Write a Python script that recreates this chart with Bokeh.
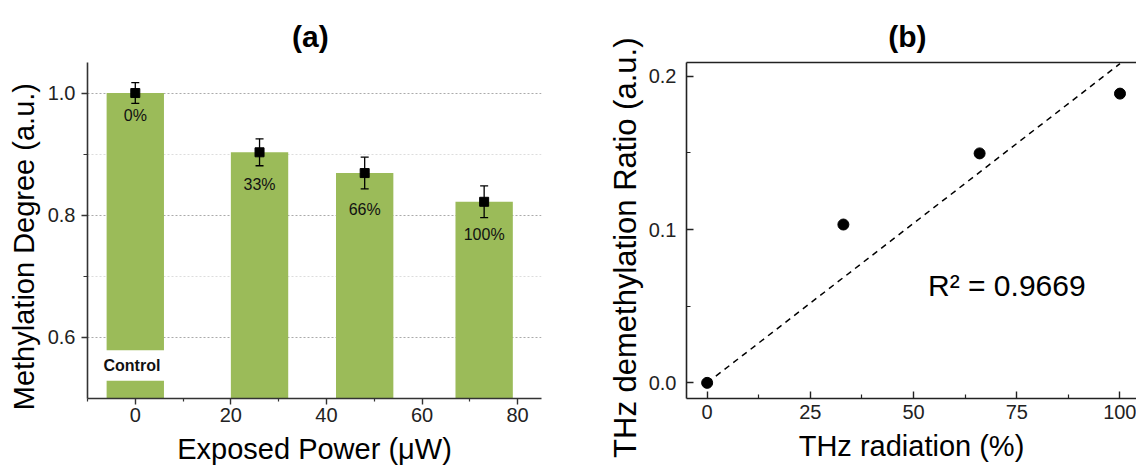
import numpy as np
from bokeh.plotting import figure
from bokeh.models import (Range1d, FixedTicker, LinearAxis, Label, Whisker, Title,
                          ColumnDataSource, TeeHead, BoxAnnotation, PrintfTickFormatter)
from bokeh.layouts import row
from bokeh.embed import file_html
from bokeh.resources import INLINE
from bokeh.core.properties import value

# ---------------- data: panel (a) ----------------
power = [0, 26, 48, 73]                      # exposed power (uW)
methylation = [1.0, 0.903, 0.869, 0.822]     # methylation degree (a.u.)
methylation_err = [0.017, 0.022, 0.026, 0.026]
pct_labels = ["0%", "33%", "66%", "100%"]
pct_label_y = [0.963, 0.851, 0.810, 0.768]
control_break = (0.529, 0.579)
a_xticks = [0, 20, 40, 60, 80]
a_xminor = [-10, 10, 30, 50, 70]
a_yticks = [0.6, 0.8, 1.0]
a_yminor = [0.7, 0.9]

# ---------------- data: panel (b) ----------------
radiation = [0, 33, 66, 100]                 # THz radiation (%)
demethylation = [0.0, 0.1033, 0.1497, 0.1887]
r_squared = "0.9669"
b_xticks = [0, 25, 50, 75, 100]
b_xminor = [12.5, 37.5, 62.5, 87.5]
b_yticks = [0.0, 0.1, 0.2]
b_yminor = [0.05, 0.15]

FONT = "Liberation Sans"
H = 470
BAR_COLOR = "#9BBB59"
BAR_W = 12
TICK_FS = "20px"
NBSP = "\u00a0"


def text_panel(p, text, side, standoff, size, shift_pad=0, bold=False):
    # trailing no-break spaces nudge a centred title toward its start
    t = Title(text=text + NBSP * shift_pad, align="center", standoff=standoff,
              text_font=FONT, text_font_size=size,
              text_font_style="bold" if bold else "normal", text_color="black")
    if side == "above":
        p.title = t
    else:
        p.add_layout(t, side)
    return t


# ================= panel (a) =================
pa = figure(width=600, height=H, x_range=Range1d(-10, 85), y_range=Range1d(0.5, 1.05),
            output_backend="svg", toolbar_location=None,
            min_border_left=87, min_border_right=59, min_border_top=62, min_border_bottom=72)
pa.outline_line_color = None
pa.background_fill_color = "white"
pa.border_fill_color = "white"

src_a = ColumnDataSource(dict(x=power, y=methylation,
                              upper=[m + e for m, e in zip(methylation, methylation_err)],
                              lower=[m - e for m, e in zip(methylation, methylation_err)],
                              lab=pct_labels, laby=pct_label_y))
pa.vbar(x="x", top="y", bottom=0.5, width=BAR_W, source=src_a,
        fill_color=BAR_COLOR, line_color=None)

# white break in the control bar
pa.add_layout(BoxAnnotation(left=power[0] - BAR_W / 2 - 0.3, right=power[0] + BAR_W / 2 + 0.3,
                            bottom=control_break[0], top=control_break[1],
                            fill_color="white", fill_alpha=1.0, line_color=None))
pa.add_layout(Label(x=power[0] - 0.7, y=sum(control_break) / 2, text="Control",
                    text_font=FONT, text_font_size="16px", text_font_style="bold",
                    text_align="center", text_baseline="middle", text_color="#111"))

wh = Whisker(base="x", upper="upper", lower="lower", source=src_a,
             line_color="black", line_width=1.3, level="overlay",
             upper_head=TeeHead(size=8, line_color="black", line_width=1.3),
             lower_head=TeeHead(size=8, line_color="black", line_width=1.3))
pa.add_layout(wh)
pa.scatter(x="x", y="y", source=src_a, marker="square", size=9,
           fill_color="black", line_color="black")
pa.text(x="x", y="laby", text="lab", source=src_a, text_font=value(FONT),
        text_font_size=value("16px"), text_align="center", text_baseline="middle",
        text_color="#111")

pa.xaxis.ticker = FixedTicker(ticks=a_xticks, minor_ticks=a_xminor)
pa.yaxis.ticker = FixedTicker(ticks=a_yticks, minor_ticks=a_yminor)
pa.yaxis.formatter = PrintfTickFormatter(format="%.1f")
for ax in (pa.xaxis[0], pa.yaxis[0]):
    ax.axis_line_color = "#333"
    ax.axis_line_width = 1.6
    ax.major_tick_line_color = "#333"
    ax.minor_tick_line_color = "#333"
    ax.major_tick_line_width = 1.4
    ax.minor_tick_line_width = 1.2
    ax.major_tick_out = 6
    ax.major_tick_in = 0
    ax.minor_tick_out = 4
    ax.minor_tick_in = 0
    ax.major_label_text_font = FONT
    ax.major_label_text_font_size = TICK_FS
    ax.major_label_text_color = "#222"
pa.yaxis.major_label_standoff = 6
pa.xaxis.major_label_standoff = 3
pa.xaxis.minor_tick_out = 3

pa.xgrid.grid_line_color = None
pa.ygrid.grid_line_color = "#aaaaaa"
pa.ygrid.grid_line_dash = "2 2"
pa.ygrid.grid_line_width = 1
pa.ygrid.minor_grid_line_color = "#dddddd"
pa.ygrid.minor_grid_line_dash = "2 2"

text_panel(pa, "(a)", "above", standoff=19, size="30px", shift_pad=1, bold=True)
text_panel(pa, "Methylation Degree (a.u.)", "left", standoff=10, size="29px", shift_pad=4)
text_panel(pa, "Exposed Power (\u03bcW)", "below", standoff=12, size="29px")

# ================= panel (b) =================
pb = figure(width=536, height=H, x_range=Range1d(-5, 104), y_range=Range1d(-0.0102, 0.209),
            output_backend="svg", toolbar_location=None,
            min_border_left=86, min_border_right=0, min_border_top=62, min_border_bottom=72)
pb.outline_line_color = None
pb.background_fill_color = "white"
pb.border_fill_color = "white"

# linear fit through origin
xr = np.array(radiation, dtype=float)
yr = np.array(demethylation, dtype=float)
slope = float((xr * yr).sum() / (xr * xr).sum())
fit_x = [0.0, float(xr.max())]
pb.line(x=fit_x, y=[slope * v for v in fit_x], line_color="black",
        line_width=1.5, line_dash="6 5")
pb.scatter(x=radiation, y=demethylation, marker="circle", size=11,
           fill_color="black", line_color="black")
pb.add_layout(Label(x=53.5, y=0.0632, text="R\u00b2 = " + r_squared,
                    text_font=FONT, text_font_size="30px",
                    text_align="left", text_baseline="alphabetic", text_color="black"))

pb.xaxis.ticker = FixedTicker(ticks=b_xticks, minor_ticks=b_xminor)
pb.yaxis.ticker = FixedTicker(ticks=b_yticks, minor_ticks=b_yminor)
pb.yaxis.formatter = PrintfTickFormatter(format="%.1f")
for ax in (pb.xaxis[0], pb.yaxis[0]):
    ax.axis_line_color = "#222"
    ax.axis_line_width = 1.6
    ax.major_tick_line_color = "#222"
    ax.minor_tick_line_color = "#222"
    ax.major_tick_line_width = 1.4
    ax.minor_tick_line_width = 1.2
    ax.major_tick_out = 0
    ax.major_tick_in = 7
    ax.minor_tick_out = 0
    ax.minor_tick_in = 4
    ax.major_label_text_font = FONT
    ax.major_label_text_font_size = TICK_FS
    ax.major_label_text_color = "#222"
pb.yaxis.major_label_standoff = 10
pb.xaxis.major_label_standoff = 6

top_ax = LinearAxis(ticker=FixedTicker(ticks=[]), axis_line_color="#222", axis_line_width=1.6,
                    major_tick_in=0, major_tick_out=0, minor_tick_in=0, minor_tick_out=0,
                    major_label_text_font_size="0px")
pb.add_layout(top_ax, "above")
pb.xgrid.grid_line_color = None
pb.ygrid.grid_line_color = None

text_panel(pb, "(b)", "above", standoff=19, size="30px", shift_pad=1, bold=True)
text_panel(pb, "THz demethylation Ratio (a.u.)", "left", standoff=6, size="31px", shift_pad=4)
text_panel(pb, "THz radiation (%)", "below", standoff=12, size="29px")

layout = row(pa, pb)
open("out.html", "w").write(file_html(layout, INLINE))
